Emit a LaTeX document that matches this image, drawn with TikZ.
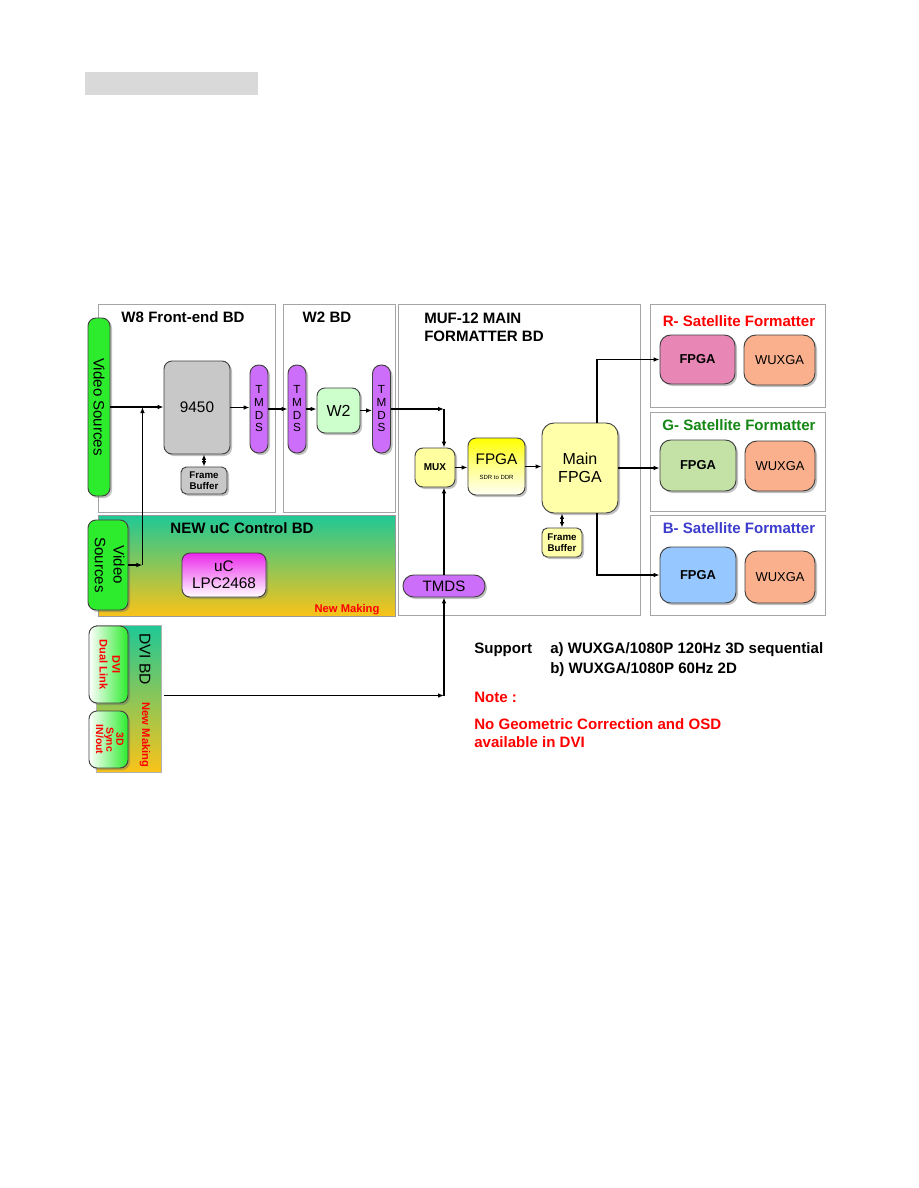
\documentclass[tikz,border=0pt]{standalone}
\usepackage{fontspec}
\setmainfont{Liberation Sans}
\usepackage{xcolor}
\usetikzlibrary{arrows.meta,positioning,calc,shadows}

\definecolor{vgreen}{RGB}{45,235,45}
\definecolor{chipgray}{RGB}{200,200,200}
\definecolor{tmdsviolet}{RGB}{205,110,250}
\definecolor{wtwo}{RGB}{204,255,204}
\definecolor{paleyellow}{RGB}{255,255,160}
\definecolor{mainyellow}{RGB}{255,255,170}
\definecolor{fpgared}{RGB}{232,135,182}
\definecolor{fpgagreen}{RGB}{196,226,165}
\definecolor{fpgablue}{RGB}{150,200,255}
\definecolor{wuxsalmon}{RGB}{250,176,140}
\definecolor{ucmagenta}{RGB}{235,40,235}
\definecolor{bdteal}{RGB}{30,200,150}
\definecolor{bdyellow}{RGB}{250,195,25}
\definecolor{titlered}{RGB}{255,0,0}
\definecolor{titlegreen}{RGB}{20,135,20}
\definecolor{titleblue}{RGB}{60,60,205}
\definecolor{panelgray}{RGB}{165,165,165}
\definecolor{bargray}{RGB}{217,217,217}

\begin{document}
\begin{tikzpicture}[x=0.75pt,y=-0.75pt,
  panel/.style={draw=panelgray,line width=0.6pt},
  blk/.style={draw=black!75,line width=0.7pt,rounded corners=6pt,align=center,inner sep=1pt,
    drop shadow={shadow xshift=1.5pt,shadow yshift=-1.5pt,opacity=0.4,fill=black!60}},
  pill/.style={blk,fill=tmdsviolet,rounded corners=6.5pt},
  conn/.style={line width=1.2pt,-{Latex[length=4.5pt,width=3.5pt]}},
  twoway/.style={line width=1.2pt,{Latex[length=4pt,width=3.2pt]}-{Latex[length=4pt,width=3.2pt]}},
  bdtitle/.style={font=\bfseries\fontsize{11.3}{13.5}\selectfont,inner sep=0pt}]

% page
\fill[white] (0,0) rectangle (918,1188);
\useasboundingbox (0,0) rectangle (918,1188);

% grey heading bar
\fill[bargray] (85,72) rectangle (258,95);

% board outlines
\draw[panel] (98,304) rectangle (275,512);
\draw[panel] (283,304) rectangle (395,512);
\draw[panel] (398,304) rectangle (640,615);
\draw[panel] (650,304) rectangle (825,407);
\draw[panel] (650,412) rectangle (825,511);
\draw[panel] (650,515) rectangle (825,615);
\shade[top color=bdteal,bottom color=bdyellow,draw=black!40,line width=0.5pt] (98,515) rectangle (395,616);

% board titles
\node[bdtitle] (tw8) at (183,317) {W8 Front-end BD};
\node[bdtitle] (tw2) at (327,317) {W2 BD};
\node[bdtitle,anchor=west,align=left] (tmuf) at (424,327) {MUF-12 MAIN\\FORMATTER BD};
\node[bdtitle,text=titlered] (tr) at (739,321) {R- Satellite Formatter};
\node[bdtitle,text=titlegreen] (tg) at (739,425) {G- Satellite Formatter};
\node[bdtitle,text=titleblue] (tb) at (739,528) {B- Satellite Formatter};
\node[bdtitle] (tuc) at (242,528) {NEW uC Control BD};
\node[font=\bfseries\fontsize{8.4}{10}\selectfont,text=titlered,inner sep=0pt] (newm1) at (347,610) {New Making};

% W8 front-end and W2
\node[blk,fill=vgreen,minimum width=16.5pt,minimum height=133.5pt,font=\fontsize{11.3}{13}\selectfont] (vsrc) at (99,407) {\rotatebox{-90}{Video Sources}};
\node[blk,fill=chipgray,minimum width=49.5pt,minimum height=69.75pt,font=\fontsize{11.5}{13}\selectfont] (ic9450) at (197,407.5) {9450};
\node[blk,fill=chipgray,rounded corners=4pt,minimum width=34.5pt,minimum height=20.25pt,font=\bfseries\fontsize{7.3}{8.5}\selectfont] (fbuf) at (204,480.5) {Frame\\Buffer};
\node[pill,minimum width=13.5pt,minimum height=66pt,font=\fontsize{8.8}{9.5}\selectfont] (tmdsa) at (259,409) {T\\M\\D\\S};
\node[pill,minimum width=13.5pt,minimum height=66pt,font=\fontsize{8.8}{9.5}\selectfont] (tmdsb) at (297,409) {T\\M\\D\\S};
\node[blk,fill=wtwo,minimum width=32.25pt,minimum height=33.75pt,font=\fontsize{12}{14}\selectfont] (wtwo) at (338.5,410.5) {W2};
\node[pill,minimum width=13.5pt,minimum height=66pt,font=\fontsize{8.8}{9.5}\selectfont] (tmdsc) at (381.5,409) {T\\M\\D\\S};

% main formatter
\node[blk,fill=paleyellow,minimum width=30pt,minimum height=29.25pt,font=\bfseries\fontsize{7.5}{9}\selectfont] (mux) at (435,467.5) {MUX};
\node[blk,top color=yellow,bottom color=yellow!4,middle color=yellow!45,minimum width=42.75pt,minimum height=42.75pt] (fpgaconv) at (496.5,466.5) {{\fontsize{11.5}{12}\selectfont FPGA}\\[-1pt]{\fontsize{4.5}{5}\selectfont SDR to DDR}};
\node[blk,fill=mainyellow,rounded corners=9pt,minimum width=57pt,minimum height=67.5pt,font=\fontsize{12}{13.5}\selectfont] (mainfpga) at (580,468) {Main\\FPGA};
\node[blk,fill=mainyellow,rounded corners=4pt,minimum width=30pt,minimum height=21.75pt,font=\bfseries\fontsize{7.3}{8.5}\selectfont] (fbufb) at (562,542.5) {Frame\\Buffer};

% satellite formatters
\node[blk,fill=fpgared,rounded corners=8pt,minimum width=56.25pt,minimum height=36.75pt,font=\bfseries\fontsize{9.7}{11}\selectfont] (fpgar) at (697.5,359.5) {FPGA};
\node[blk,fill=wuxsalmon,rounded corners=9pt,minimum width=53.25pt,minimum height=37.5pt,font=\fontsize{9.7}{11}\selectfont] (wuxr) at (779.5,360) {WUXGA};
\node[blk,fill=fpgagreen,rounded corners=8pt,minimum width=57pt,minimum height=38.25pt,font=\bfseries\fontsize{9.7}{11}\selectfont] (fpgag) at (698,465.5) {FPGA};
\node[blk,fill=wuxsalmon,rounded corners=9pt,minimum width=52.5pt,minimum height=37.5pt,font=\fontsize{9.7}{11}\selectfont] (wuxg) at (780,466) {WUXGA};
\node[blk,fill=fpgablue,rounded corners=8pt,minimum width=57pt,minimum height=42pt,font=\bfseries\fontsize{9.7}{11}\selectfont] (fpgab) at (698,575) {FPGA};
\node[blk,fill=wuxsalmon,rounded corners=9pt,minimum width=52.5pt,minimum height=39pt,font=\fontsize{9.7}{11}\selectfont] (wuxb) at (780,577) {WUXGA};

% uC control board
\node[blk,fill=vgreen,minimum width=30pt,minimum height=67.5pt,font=\fontsize{11.3}{14}\selectfont] (vsrcb) at (108,565) {\rotatebox{-90}{\begin{tabular}{@{}c@{}}Video\\Sources\end{tabular}}};
\node[blk,top color=ucmagenta,bottom color=white,minimum width=63pt,minimum height=33pt,font=\fontsize{11.5}{13}\selectfont] (uc) at (224,575) {uC\\LPC2468};
\node[pill,rounded corners=8pt,minimum width=61.5pt,minimum height=16.5pt,font=\fontsize{11.3}{13}\selectfont] (tmdsin) at (444,586) {TMDS};

% DVI board
\node[draw=black!30,line width=0.4pt,top color=bdteal,bottom color=bdyellow,minimum width=48.75pt,minimum height=110.25pt,inner sep=0pt] (dvibd) at (128.5,698.5) {};
\node[font=\fontsize{11.7}{13}\selectfont,inner sep=0pt] (dvititle) at (145,659) {\rotatebox{-90}{DVI BD}};
\node[font=\bfseries\fontsize{8.4}{10}\selectfont,text=titlered,inner sep=0pt] (newm2) at (145,735) {\rotatebox{-90}{New Making}};
\node[blk,left color=white,right color=vgreen,minimum width=29.25pt,minimum height=57.75pt,font=\bfseries\fontsize{8.3}{9.5}\selectfont,text=titlered] (dvilink) at (108.5,664.5) {\rotatebox{-90}{\begin{tabular}{@{}c@{}}DVI\\Dual Link\end{tabular}}};
\node[blk,left color=white,right color=vgreen,minimum width=29.25pt,minimum height=42.75pt,font=\bfseries\fontsize{7.8}{7}\selectfont,text=titlered] (sync3d) at (108.5,739.5) {\rotatebox{-90}{\begin{tabular}{@{}c@{}}3D\\Sync\\IN/out\end{tabular}}};

% notes
\node[bdtitle,anchor=base west] (support) at (474,653) {Support};
\node[bdtitle,anchor=base west] (suppa) at (550,653) {a) WUXGA/1080P 120Hz 3D sequential};
\node[bdtitle,anchor=base west] (suppb) at (550,673) {b) WUXGA/1080P 60Hz 2D};
\node[bdtitle,anchor=base west,text=titlered] (note) at (474,702) {Note :};
\node[bdtitle,anchor=base west,text=titlered] (notea) at (474,729) {No Geometric Correction and OSD};
\node[bdtitle,anchor=base west,text=titlered] (noteb) at (474,747) {available in DVI};

% video path through W8 and W2
\coordinate (vjoin) at ($(vsrcb.east)+(14,0)$);
\draw[conn] (vsrc.east) -- (vsrc.east -| ic9450.west);
\draw[conn] (vsrcb.east) -- (vjoin);
\draw[conn] (vjoin) -- (vjoin |- vsrc.east);
\draw[conn] (ic9450.east) -- (ic9450.east -| tmdsa.west);
\draw[twoway] (fbuf.north) -- (fbuf.north |- ic9450.south);
\draw[conn] (tmdsa.east) -- (tmdsb.west);
\draw[conn] (tmdsb.east) -- (tmdsb.east -| wtwo.west);
\draw[conn] (wtwo.east) -- (wtwo.east -| tmdsc.west);
\coordinate (muxjoin) at (tmdsc.east -| tmdsin.north);
\draw[conn] (tmdsc.east) -- (muxjoin);
\draw[conn] (muxjoin) -- (muxjoin |- mux.north);

% formatter chain and outputs
\draw[conn] (mux.east) -- (mux.east -| fpgaconv.west);
\draw[conn] (fpgaconv.east) -- (fpgaconv.east -| mainfpga.west);
\draw[twoway] (fbufb.north) -- (fbufb.north |- mainfpga.south);
\coordinate (outtop) at ($(mainfpga.north)+(17,0)$);
\coordinate (outbot) at ($(mainfpga.south)+(17,0)$);
\draw[conn] (outtop) |- (fpgar.west);
\draw[conn] (mainfpga.east) -- (mainfpga.east -| fpgag.west);
\draw[conn] (outbot) |- (fpgab.west);

% DVI and TMDS input
\draw[conn] (tmdsin.north) -- (tmdsin.north |- mux.south);
\coordinate (dviout) at ($(dvibd.east)+(3,-3)$);
\coordinate (dvijoin) at (dviout -| tmdsin.south);
\draw[conn] (dviout) -- (dvijoin);
\draw[conn] (dvijoin) -- (tmdsin.south);
\end{tikzpicture}
\end{document}
